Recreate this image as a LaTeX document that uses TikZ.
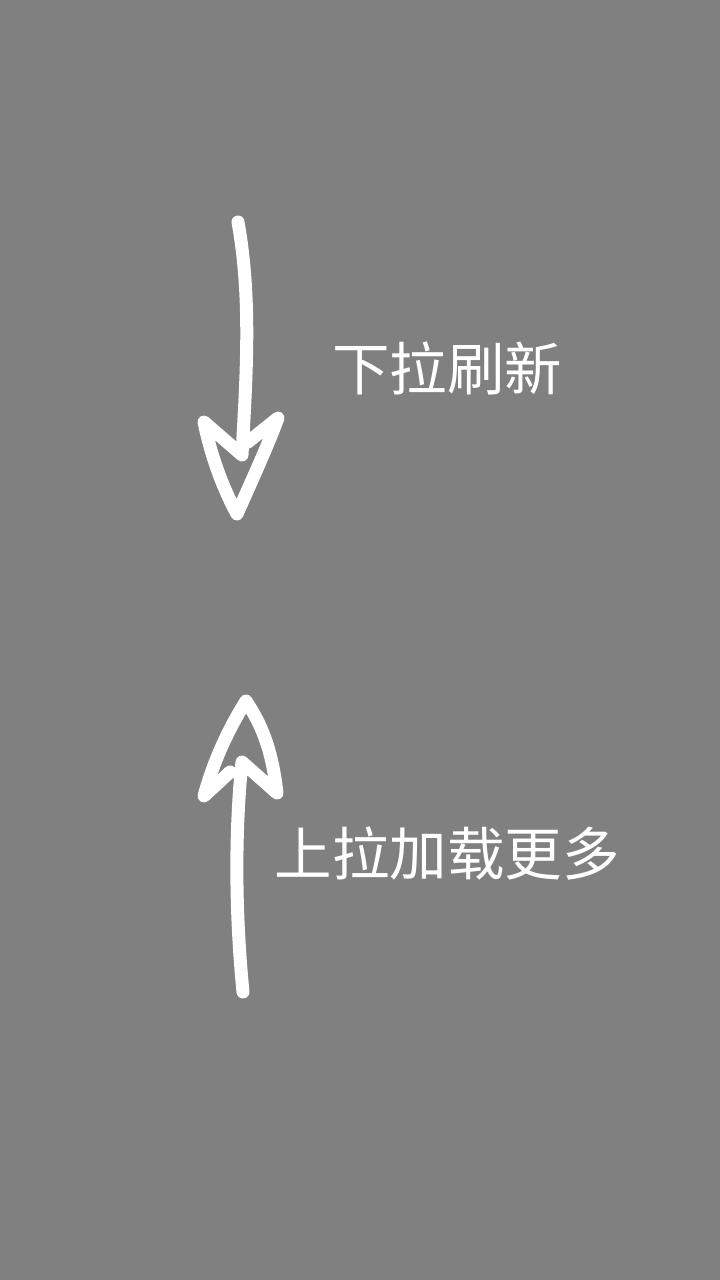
\documentclass[tikz,border=0pt]{standalone}
\usepackage{fontspec}
\newfontfamily\cjk{Noto Sans CJK SC}
\definecolor{bggray}{HTML}{808080}
\begin{document}
\begin{tikzpicture}[x=1pt,y=-1pt,
  stroke/.style={draw=white,line width=13pt,line cap=round,line join=round},
  label/.style={text=white,font=\cjk\fontsize{57.5}{60}\selectfont,inner sep=0pt}]
\fill[bggray] (0,0) rectangle (720,1280);
\useasboundingbox (0,0) rectangle (720,1280);
% down arrow
\coordinate (dtop) at (238,222);
\coordinate (dbase) at (242,455);
\draw[stroke] (dtop) .. controls (252,300) and (246,380) .. (dbase)
  -- (204,422) .. controls (212,460) and (224,490) .. (237,514)
  .. controls (252,480) and (266,450) .. (278,418) -- (248,442);
% up arrow
\coordinate (ubot) at (243,992);
\coordinate (utop) at (242,762);
\draw[stroke] (ubot) .. controls (234,900) and (236,820) .. (utop)
  -- (277,793) .. controls (272,750) and (262,725) .. (246,701)
  .. controls (228,730) and (214,760) .. (204,796) -- (230,772);
\node[label] (pull) at (447,368) {下拉刷新};
\node[label] (load) at (447,853) {上拉加载更多};
\end{tikzpicture}
\end{document}
